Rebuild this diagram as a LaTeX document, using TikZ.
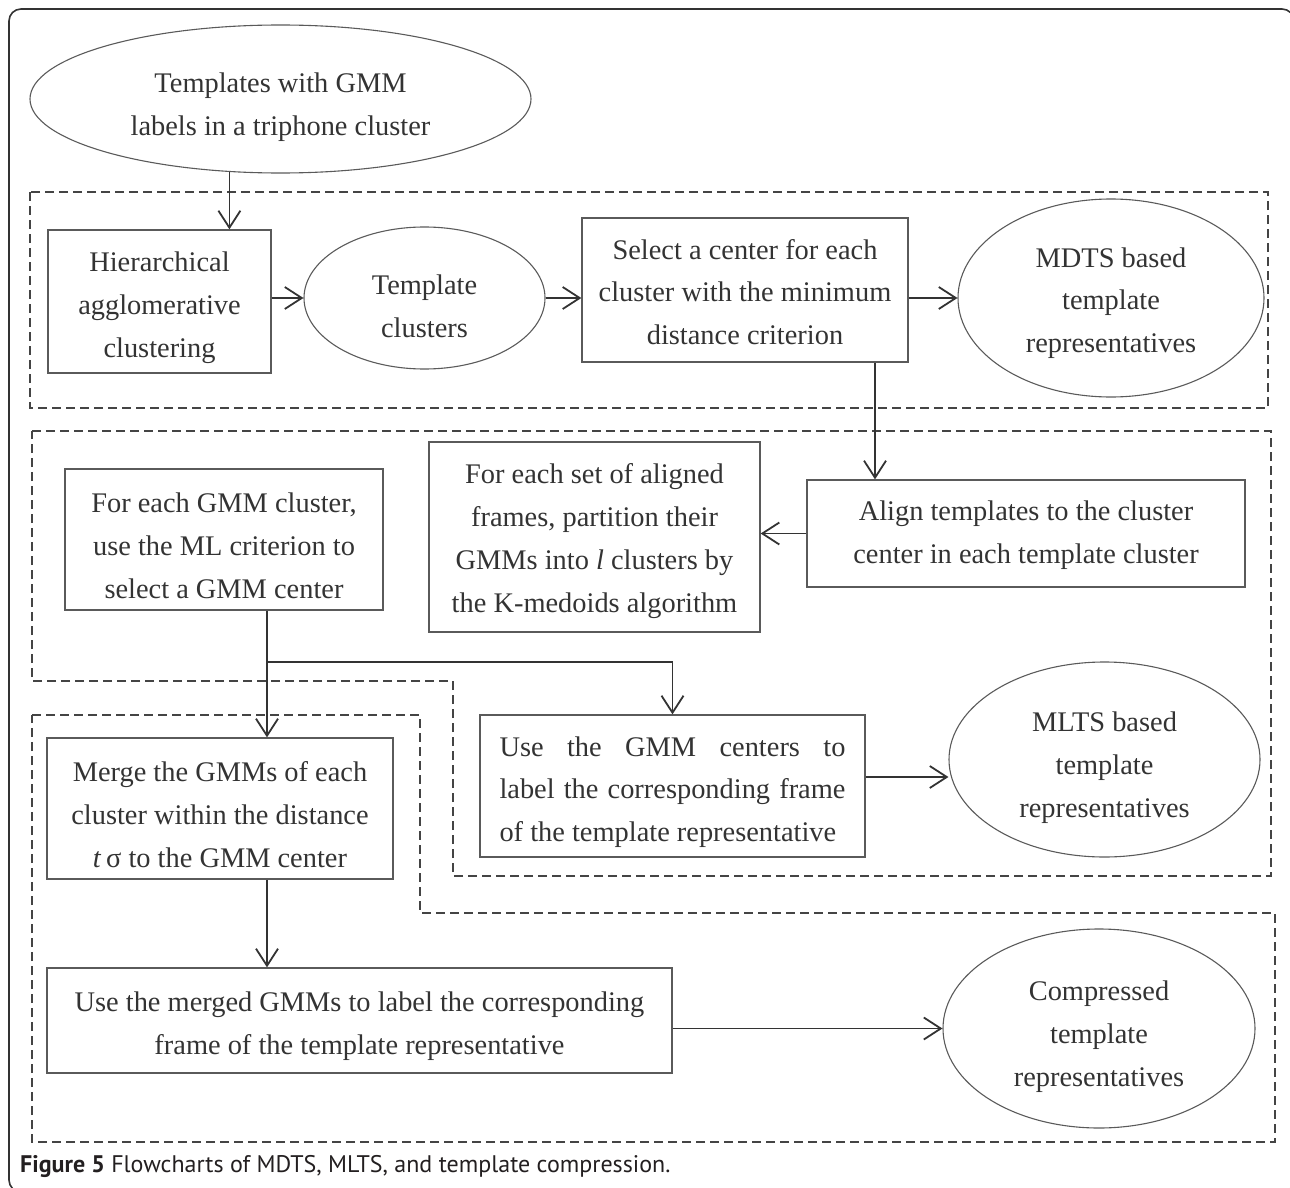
\documentclass[tikz,border=0pt]{standalone}
\usepackage{fontspec}
\setmainfont{Liberation Serif}
\newfontfamily\capfont{PT Sans}
\usetikzlibrary{arrows.meta,shapes.geometric}
\definecolor{ink}{HTML}{333333}
\definecolor{boxline}{HTML}{5A5A5A}
\definecolor{dashc}{HTML}{444444}
\definecolor{capc}{HTML}{231F20}
\begin{document}
\begin{tikzpicture}[x=1pt,y=-1pt,
  txt/.style={font=\fontsize{28.4}{42.8}\selectfont, text=ink, align=center, inner sep=0pt},
  btxt/.style={txt, yshift=-6pt},
  etxt/.style={txt, yshift=-8pt},
  rbox/.style={draw=boxline, line width=1.3pt, rectangle, inner sep=0pt},
  ell/.style={draw=boxline, line width=1.1pt, ellipse, inner sep=0pt},
  arr/.style={draw=ink, line width=1.8pt, -{Straight Barb[length=17pt,width=22pt]}},
  dbox/.style={draw=dashc, line width=1.8pt, dash pattern=on 9pt off 5pt},
]
\useasboundingbox (0,0) rectangle (1290,1188);
\draw[draw=ink, line width=1.6pt, rounded corners=12pt] (9,9) rectangle (1294,1192);

% dashed groups
\draw[dbox] (30,192) rectangle (1268,408);
\draw[dbox] (32,431) -- (1271,431) -- (1271,876) -- (453,876) -- (453,681) -- (32,681) -- cycle;
\draw[dbox] (32,715) -- (420,715) -- (420,913) -- (1275,913) -- (1275,1142) -- (32,1142) -- cycle;

% nodes
\node[ell, minimum width=501pt, minimum height=148pt,
  label={[etxt]center:{Templates with GMM\\labels in a triphone cluster}}] (ell1) at (280.5,99) {};
\node[rbox, minimum width=223pt, minimum height=143pt,
  label={[btxt]center:{Hierarchical\\agglomerative\\clustering}}] (hier) at (159.5,301.5) {};
\node[ell, minimum width=241pt, minimum height=142pt,
  label={[etxt]center:{Template\\clusters}}] (tc) at (424.5,298) {};
\node[rbox, minimum width=326pt, minimum height=144pt,
  label={[txt,yshift=-2pt]center:{Select a center for each\\cluster with the minimum\\distance criterion}}] (sel) at (745,290) {};
\node[ell, minimum width=306pt, minimum height=198pt,
  label={[txt,yshift=-5pt]center:{MDTS based\\template\\representatives}}] (mdts) at (1111,298) {};
\node[rbox, minimum width=438pt, minimum height=107pt,
  label={[txt,yshift=-2pt]center:{Align templates to the cluster\\center in each template cluster}}] (align) at (1026,533.5) {};
\node[rbox, minimum width=331pt, minimum height=190pt,
  label={[txt,yshift=-4pt]center:{For each set of aligned\\frames, partition their\\GMMs into \textit{l} clusters by\\the K-medoids algorithm}}] (fset) at (594.5,537) {};
\node[rbox, minimum width=318pt, minimum height=141pt,
  label={[btxt]center:{For each GMM cluster,\\use the ML criterion to\\select a GMM center}}] (fgmm) at (224,539.5) {};
\node[rbox, minimum width=346pt, minimum height=141pt,
  label={[btxt]center:{Merge the GMMs of each\\cluster within the distance\\\textit{t}\,σ to the GMM center}}] (merge) at (220,808.5) {};
\node[rbox, minimum width=385pt, minimum height=142pt,
  label={[btxt]center:{\makebox[346pt][s]{Use the GMM centers to}\\\makebox[346pt][s]{label the corresponding frame}\\\makebox[346pt][l]{of the template representative}}}] (usegmm) at (672.5,786) {};
\node[ell, minimum width=311pt, minimum height=195pt,
  label={[etxt]center:{MLTS based\\template\\representatives}}] (mlts) at (1104.5,759.5) {};
\node[rbox, minimum width=625pt, minimum height=105pt,
  label={[btxt]center:{Use the merged GMMs to label the corresponding\\frame of the template representative}}] (umerged) at (359.5,1020.5) {};
\node[ell, minimum width=312pt, minimum height=199pt,
  label={[etxt]center:{Compressed\\template\\representatives}}] (comp) at (1099,1028.5) {};

\node[anchor=west, inner sep=0pt, text=capc, font=\capfont\fontsize{24}{28}\selectfont] (cap) at (20,1166)
  {\textbf{Figure 5} Flowcharts of MDTS, MLTS, and template compression.};

% connectors
\draw[arr] (ell1.235) -- (ell1.235 |- hier.north);
\draw[arr] (tc.west -| hier.east) -- (tc.west);
\draw[arr] (tc.east) -- (tc.east -| sel.west);
\draw[arr] (mdts.west -| sel.east) -- (mdts.west);
\coordinate (sa) at (875,0);
\draw[arr] (sel.south -| sa) -- (align.north -| sa);
\draw[arr] (align.west) -- (align.west -| fset.east);
\coordinate (va) at (267,662);
\draw[arr] (fgmm.south -| va) -- (merge.north -| va);
\draw[arr] (va) -| (usegmm.north);
\coordinate (ym) at (0,777);
\draw[arr] (usegmm.east |- ym) -- (mlts.west |- ym);
\draw[arr] (merge.south -| va) -- (umerged.north -| va);
\draw[arr] (comp.west -| umerged.east) -- (comp.west);
\end{tikzpicture}
\end{document}
